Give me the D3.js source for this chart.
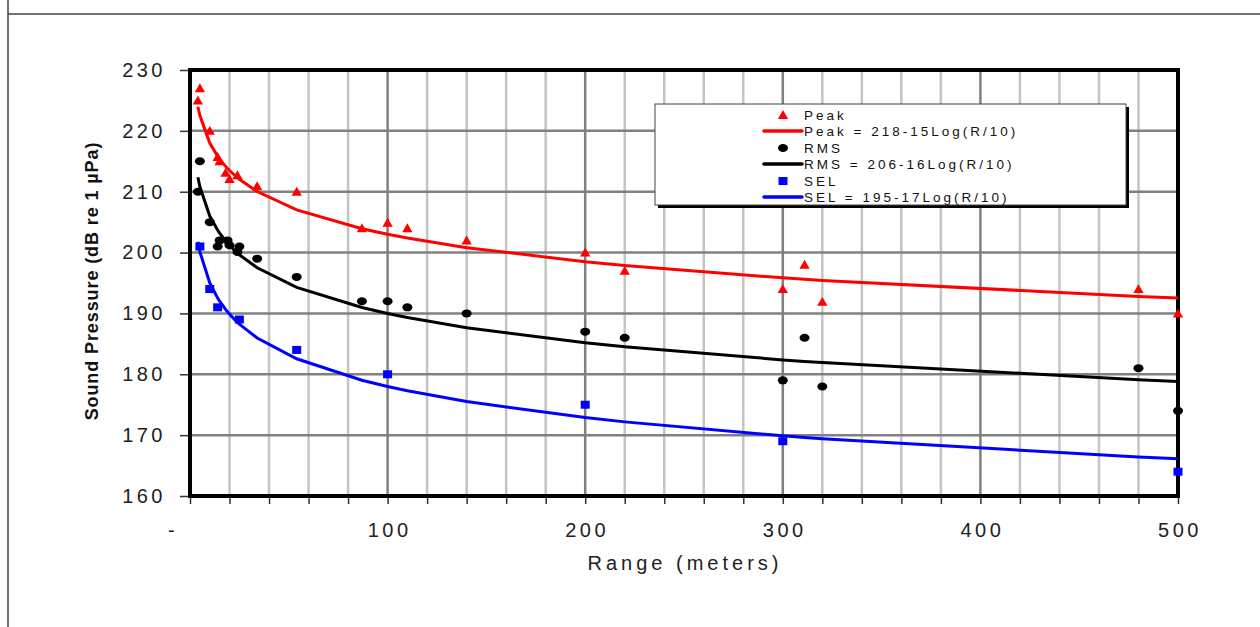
<!DOCTYPE html>
<html>
<head>
<meta charset="utf-8">
<script src="https://cdn.jsdelivr.net/npm/d3@7"></script>
<style>
  body { margin: 0; background: #fff; }
  svg { display: block; font-family: "Liberation Sans", Arial, sans-serif; }
</style>
</head>
<body>
<div id="chart"></div>
<script>
// measured points (range in meters, level in dB re 1 uPa)
const peakR  = [4, 5, 10, 14, 15, 18, 20, 24, 34, 54, 87, 100, 110, 140, 200, 220, 300, 311, 320, 480, 500];
const peakDb = [225, 227, 220, 215.7, 215, 213.1, 212.1, 212.7, 210.9, 210, 204, 204.9, 204, 202, 200, 197, 194, 198, 191.9, 194, 190];

const rmsR  = [4, 5, 10, 14, 15, 19, 20, 24, 25, 34, 54, 87, 100, 110, 140, 200, 220, 300, 311, 320, 480, 500];
const rmsDb = [210, 215, 205, 201, 202, 202, 201.2, 200.1, 201, 199, 196, 192, 192, 191, 190, 187, 186, 179, 186, 178, 181, 174];

const selR  = [5, 10, 14, 25, 54, 100, 200, 300, 500];
const selDb = [201, 194, 191, 189, 184, 180, 175, 169, 164];

// trendline coefficients from the legend: L = a - b*log10(R/10)
const fitA = [218, 206, 195];
const fitB = [15, 16, 17];
const fitLabels = ["Peak = 218-15Log(R/10)", "RMS = 206-16Log(R/10)", "SEL = 195-17Log(R/10)"];
const seriesNames = ["Peak", "RMS", "SEL"];
const seriesColors = ["#ff0000", "#000000", "#0000ff"];

const yTicks = [160, 170, 180, 190, 200, 210, 220, 230];
const xTicks = [0, 100, 200, 300, 400, 500];

const W = 1260, H = 627;
const svg = d3.select('#chart').append('svg')
    .attr('width', W).attr('height', H);

// page rules
svg.append('line').attr('x1', 8).attr('x2', W).attr('y1', 14).attr('y2', 14)
  .attr('stroke', '#444').attr('stroke-width', 1.5);
svg.append('line').attr('x1', 8).attr('x2', 8).attr('y1', 0).attr('y2', H)
  .attr('stroke', '#444').attr('stroke-width', 1.5);

let pLeft = 190, pRight = 1178, pTop = 70, pBottom = 496;

let x = d3.scaleLinear().domain([0, 500]).range([pLeft, pRight]);
let y = d3.scaleLinear().domain([160, 230]).range([pBottom, pTop]);

// grid
let g = svg.append('g');
g.selectAll('line.vx')
  .data(d3.range(20, 500, 20)).enter()
  .append('line')
  .attr('x1', d => x(d)).attr('x2', d => x(d))
  .attr('y1', pTop).attr('y2', pBottom)
  .attr('stroke', d => d % 100 === 0 ? '#808080' : '#c4c4c4')
  .attr('stroke-width', 2.5);
g.selectAll('line.hy')
  .data(d3.range(170, 230, 10)).enter()
  .append('line')
  .attr('x1', pLeft).attr('x2', pRight)
  .attr('y1', d => y(d)).attr('y2', d => y(d))
  .attr('stroke', '#808080')
  .attr('stroke-width', 2.5);

// axes ticks
let yAxis = svg.append('g')
  .attr('transform', 'translate(' + pLeft + ',0)')
  .call(d3.axisLeft(y).tickValues(yTicks).tickSize(10).tickPadding(14).tickFormat(d3.format('d')));
let xAxis = svg.append('g')
  .attr('transform', 'translate(0,' + pBottom + ')')
  .call(d3.axisBottom(x).tickValues(d3.range(0, 501, 20)).tickSize(8).tickFormat(''));
svg.selectAll('.domain').remove();
svg.selectAll('.tick line').attr('stroke', '#333').attr('stroke-width', 1.5);
yAxis.selectAll('text')
  .attr('font-size', 20).attr('letter-spacing', '3.5px').attr('fill', '#222')
  .attr('font-family', '"Liberation Sans", Arial, sans-serif');

svg.append('g').selectAll('text')
  .data(xTicks).enter()
  .append('text')
  .attr('x', d => d === 0 ? x(d) - 17 : x(d) + 2)
  .attr('y', 537)
  .attr('text-anchor', 'middle')
  .attr('font-size', 20).attr('letter-spacing', '3.5px').attr('fill', '#222')
  .text(d => d === 0 ? '-' : d);

// frame
svg.append('rect')
  .attr('x', pLeft).attr('y', pTop)
  .attr('width', pRight - pLeft).attr('height', pBottom - pTop)
  .attr('fill', 'none').attr('stroke', '#000').attr('stroke-width', 4);

// axis titles
svg.append('text')
  .attr('x', 685).attr('y', 570)
  .attr('text-anchor', 'middle')
  .attr('font-size', 20).attr('letter-spacing', '4px').attr('fill', '#222')
  .text('Range (meters)');
svg.append('text')
  .attr('transform', 'translate(98,281) rotate(-90)')
  .attr('text-anchor', 'middle')
  .attr('font-size', 18).attr('letter-spacing', '0.9px')
  .attr('font-weight', 'bold').attr('fill', '#111')
  .text('Sound Pressure (dB re 1 µPa)');

// trendlines through the plotted ranges
let allR = Array.from(new Set([4].concat(peakR, rmsR, selR))).sort((a, b) => a - b);
let line = d3.line().x(d => x(d[0])).y(d => y(d[1]));
fitA.forEach(function(a, i) {
  let data = allR.map(r => [r, a - fitB[i] * Math.log10(r / 10)]);
  svg.append('path')
    .attr('d', line(data))
    .attr('fill', 'none')
    .attr('stroke', seriesColors[i])
    .attr('stroke-width', 3);
});

// markers
let tri = d3.symbol().type(d3.symbolTriangle).size(46);
svg.append('g').selectAll('path')
  .data(d3.zip(peakR, peakDb)).enter()
  .append('path')
  .attr('d', tri)
  .attr('transform', d => 'translate(' + x(d[0]) + ',' + (y(d[1]) + 1) + ')')
  .attr('fill', seriesColors[0]);
svg.append('g').selectAll('ellipse')
  .data(d3.zip(rmsR, rmsDb)).enter()
  .append('ellipse')
  .attr('cx', d => x(d[0])).attr('cy', d => y(d[1]))
  .attr('rx', 5).attr('ry', 4)
  .attr('fill', seriesColors[1]);
svg.append('g').selectAll('rect')
  .data(d3.zip(selR, selDb)).enter()
  .append('rect')
  .attr('x', d => x(d[0]) - 4.5).attr('y', d => y(d[1]) - 4)
  .attr('width', 9).attr('height', 8)
  .attr('fill', seriesColors[2]);

// legend
let lg = svg.append('g');
lg.append('rect')
  .attr('x', 658).attr('y', 107).attr('width', 471).attr('height', 101)
  .attr('fill', '#000');
lg.append('rect')
  .attr('x', 655).attr('y', 104).attr('width', 471).attr('height', 101)
  .attr('fill', '#fff').attr('stroke', '#444').attr('stroke-width', 1);

let rowY = [115, 131, 148, 164, 181, 197];
seriesNames.forEach(function(name, i) {
  let y1 = rowY[i * 2], y2 = rowY[i * 2 + 1];
  if (i === 0) {
    lg.append('path').attr('d', tri).attr('transform', 'translate(783,' + (y1 + 1) + ')').attr('fill', seriesColors[i]);
  } else if (i === 1) {
    lg.append('ellipse').attr('cx', 783).attr('cy', y1).attr('rx', 5).attr('ry', 4).attr('fill', seriesColors[i]);
  } else {
    lg.append('rect').attr('x', 778.5).attr('y', y1 - 4).attr('width', 9).attr('height', 8).attr('fill', seriesColors[i]);
  }
  lg.append('line').attr('x1', 764).attr('x2', 802).attr('y1', y2).attr('y2', y2)
    .attr('stroke', seriesColors[i]).attr('stroke-width', 3.5).attr('stroke-linecap', 'round');
  lg.append('text').attr('x', 804).attr('y', y1 + 5)
    .attr('font-size', 13.5).attr('letter-spacing', '3px').attr('fill', '#111').text(name);
  lg.append('text').attr('x', 804).attr('y', y2 + 5)
    .attr('font-size', 13.5).attr('letter-spacing', '3px').attr('fill', '#111').text(fitLabels[i]);
});
</script>
</body>
</html>
